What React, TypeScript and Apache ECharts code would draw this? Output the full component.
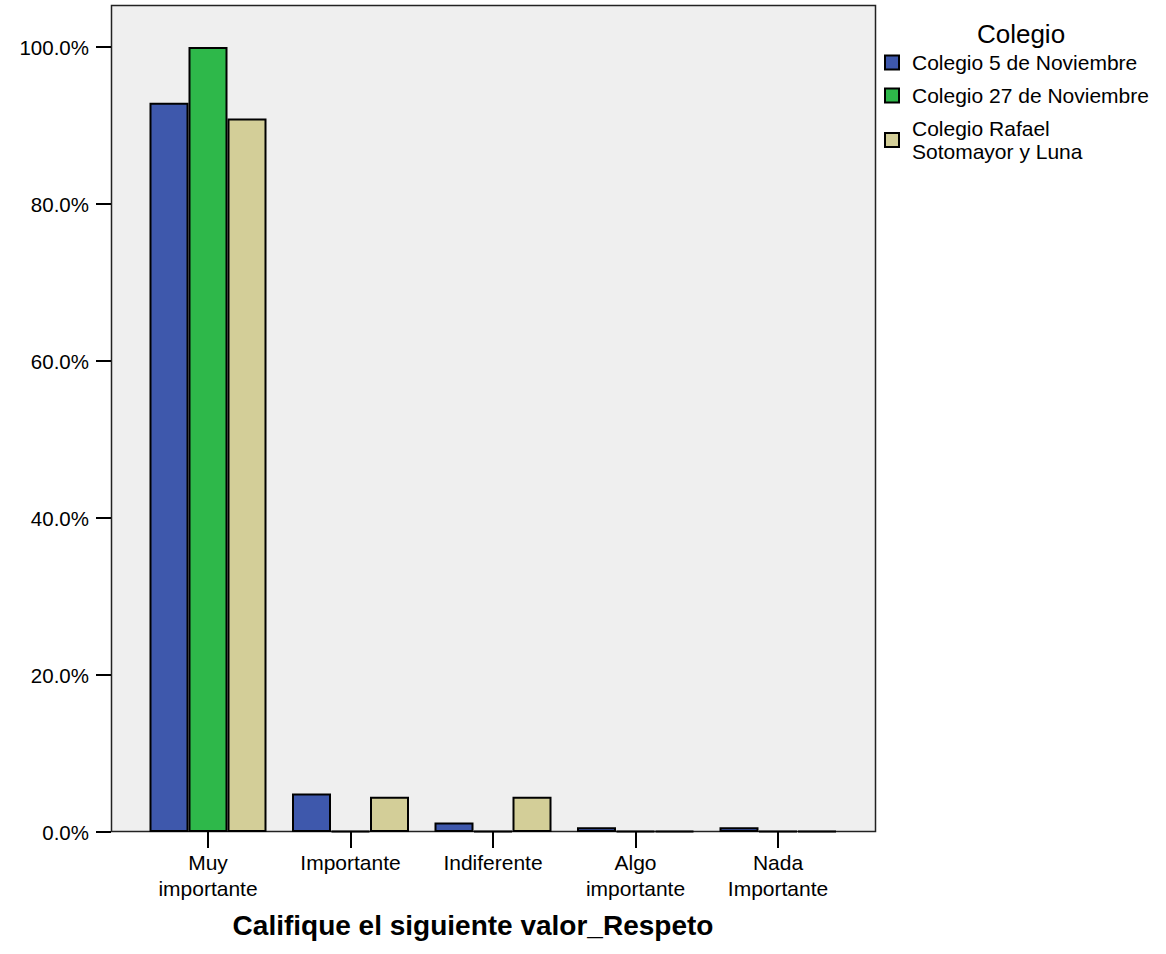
import React, { useEffect, useRef } from "react";
import * as echarts from "echarts";

const categories = ["Muy importante", "Importante", "Indiferente", "Algo importante", "Nada Importante"];
const seriesNames = ["Colegio 5 de Noviembre", "Colegio 27 de Noviembre", "Colegio Rafael Sotomayor y Luna"];
const colegio5 = [92.9, 4.9, 1.2, 0.6, 0.6];
const colegio27 = [100.0, 0, 0, 0, 0];
const colegioRafael = [90.9, 4.5, 4.5, 0, 0];
const colors = ["#3E58AC", "#2EB84A", "#D3CE98"];
const yTicks = { min: 0, max: 100, interval: 20 };

const FONT = "'Liberation Sans', Arial, Helvetica, sans-serif";

export default function App() {
  const ref = useRef<HTMLDivElement>(null);
  useEffect(() => {
    if (!ref.current) return;
    const chart = echarts.init(ref.current, undefined, { renderer: "svg" });
    const values = [colegio5, colegio27, colegioRafael];
    chart.setOption({
      animation: false,
      textStyle: { fontFamily: FONT },
      grid: { left: 136.75, right: 316.75, top: 47, bottom: 122, containLabel: false },
      title: {
        text: "Califique el siguiente valor_Respeto",
        left: 468,
        top: 906,
        textAlign: "center",
        textStyle: { fontFamily: FONT, fontSize: 28, fontWeight: "bold", color: "#000" },
      },
      graphic: [
        {
          type: "rect",
          z: -10,
          silent: true,
          shape: { x: 111.5, y: 5.5, width: 764, height: 826 },
          style: { fill: "#EFEFEF", stroke: "#222", lineWidth: 1.5 },
        },
        {
          type: "text",
          x: 1021,
          y: 34,
          style: {
            text: "Colegio",
            fontFamily: FONT,
            fontSize: 26,
            fill: "#000",
            textAlign: "center",
            textVerticalAlign: "middle",
          },
        },
      ],
      legend: {
        orient: "vertical",
        left: 879,
        top: 46,
        itemWidth: 14,
        itemHeight: 14,
        itemGap: 10,
        icon: "rect",
        data: seriesNames,
        formatter: (name: string) =>
          name === "Colegio Rafael Sotomayor y Luna" ? "Colegio Rafael\nSotomayor y Luna" : name,
        textStyle: { fontFamily: FONT, fontSize: 21, lineHeight: 23, color: "#000", padding: [0, 0, 0, 8] },
      },
      xAxis: {
        type: "category",
        data: categories,
        axisLine: { show: false },
        axisTick: { show: true, alignWithLabel: true, length: 16, lineStyle: { color: "#000", width: 2 } },
        axisLabel: {
          fontFamily: FONT,
          fontSize: 21,
          lineHeight: 26,
          margin: 17,
          color: "#000",
          interval: 0,
          formatter: (v: string) => v.replace(" ", "\n"),
        },
      },
      yAxis: {
        type: "value",
        min: yTicks.min,
        max: yTicks.max,
        interval: yTicks.interval,
        offset: 25.75,
        axisLine: { show: false },
        axisTick: { show: true, length: 15, lineStyle: { color: "#000", width: 2 } },
        splitLine: { show: false },
        axisLabel: {
          fontFamily: FONT,
          fontSize: 20.5,
          margin: 22,
          color: "#000",
          formatter: (v: number) => v.toFixed(1) + "%",
        },
      },
      series: seriesNames.map((name, i) => ({
        name,
        type: "bar",
        data: values[i],
        barWidth: 39,
        barGap: "0%",
        barMinHeight: 1,
        itemStyle: { color: colors[i], borderColor: "#000", borderWidth: 2 },
        emphasis: { disabled: true },
      })),
    });
    return () => chart.dispose();
  }, []);
  return (
    <div
      ref={ref}
      style={{ position: "fixed", left: 0, top: 0, width: 1166, height: 954, background: "#fff" }}
    />
  );
}
